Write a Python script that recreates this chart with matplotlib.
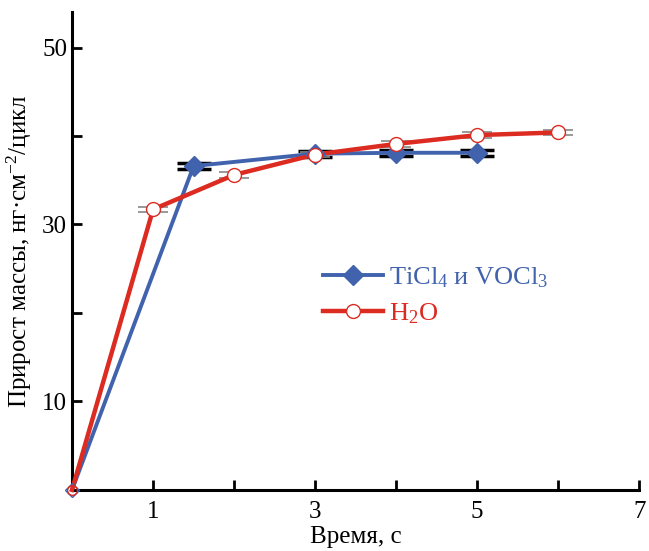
import matplotlib.pyplot as plt
from matplotlib.ticker import FixedLocator, MultipleLocator

plt.rcParams['font.family'] = ['Liberation Serif', 'DejaVu Serif']
plt.rcParams['mathtext.default'] = 'regular'

# прирост массы за цикл в зависимости от времени импульса
t_met = [0, 1.5, 3, 4, 5]
m_met = [0, 36.6, 38.0, 38.1, 38.1]
err_met = [0, 0.35, 0.35, 0.35, 0.35]

t_h2o = [0, 1, 2, 3, 4, 5, 6]
m_h2o = [0, 31.7, 35.6, 37.9, 39.1, 40.1, 40.4]
err_h2o = [0, 0.3, 0.3, 0.3, 0.3, 0.3, 0.3]

x_labels = [1, 3, 5, 7]
y_labels = [10, 30, 50]

BLUE = '#4163ad'
RED = '#dc2b21'

fig = plt.figure(figsize=(6.49, 5.51), dpi=100)
ax = fig.add_axes([0.111, 0.111, 0.874, 0.867])

# планки погрешностей (только "шапки")
ax.errorbar(t_met[1:], m_met[1:], yerr=err_met[1:], fmt='none', ecolor='black',
            elinewidth=1, capsize=12, capthick=2.5, zorder=2)
ax.errorbar(t_h2o[1:], m_h2o[1:], yerr=err_h2o[1:], fmt='none', ecolor='#888888',
            elinewidth=0.8, capsize=11, capthick=1.2, zorder=2)

ax.plot(t_met, m_met, color=BLUE, lw=2.8, zorder=3, clip_on=False)
ax.plot(t_h2o, m_h2o, color=RED, lw=3.2, zorder=4, clip_on=False)
ax.plot(t_met[1:], m_met[1:], 'D', color=BLUE, ms=10, zorder=5)
ax.plot(t_h2o[1:], m_h2o[1:], 'o', mfc='white', mec=RED, mew=1, ms=10, zorder=6)
# точки в начале координат — открытые маркеры
ax.plot(t_met[0], m_met[0], 'D', mfc='none', mec=BLUE, mew=1, ms=7, zorder=5, clip_on=False)
ax.plot(t_h2o[0], m_h2o[0], 'o', mfc='none', mec=RED, mew=1, ms=7, zorder=6, clip_on=False)

# элементы легенды
h1, = ax.plot([], [], color=BLUE, lw=2.8, marker='D', ms=10)
h2, = ax.plot([], [], color=RED, lw=3.2, marker='o', mfc='white', mec=RED, mew=1, ms=10)
leg = ax.legend([h1, h2], ['TiCl$_4$ и VOCl$_3$', 'H$_2$O'], loc='upper left',
                bbox_to_anchor=(0.4, 0.52), frameon=False, fontsize=19,
                handlelength=2.3, handletextpad=0.2, labelspacing=0.45)
for txt, c in zip(leg.get_texts(), [BLUE, RED]):
    txt.set_color(c)

ax.set_xlim(0, 7)
ax.set_ylim(0, 54)
ax.xaxis.set_major_locator(FixedLocator(x_labels))
ax.xaxis.set_minor_locator(MultipleLocator(1))
ax.yaxis.set_major_locator(FixedLocator(y_labels))
ax.yaxis.set_minor_locator(MultipleLocator(10))
ax.tick_params(which='both', direction='in', length=7, width=2, labelsize=18)
ax.tick_params(axis='x', pad=8)

for side in ['top', 'right']:
    ax.spines[side].set_visible(False)
for side in ['left', 'bottom']:
    ax.spines[side].set_linewidth(2.2)

ax.set_xlabel('Время, с', fontsize=18, labelpad=2)
ax.set_ylabel('Прирост массы, нг·см$^{-2}$/цикл', fontsize=18, labelpad=6)

fig.savefig('out.png', dpi=100)
